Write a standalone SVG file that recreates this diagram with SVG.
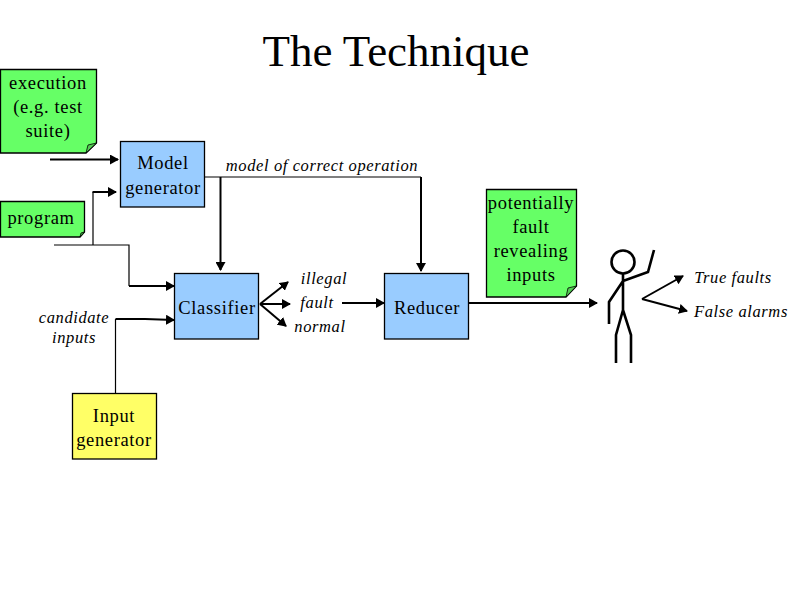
<svg xmlns="http://www.w3.org/2000/svg" width="794" height="595" viewBox="0 0 794 595">
<style>
text{font-family:"Liberation Serif","Times New Roman",serif;text-anchor:middle;fill:#000}
.n{font-size:18.5px;letter-spacing:.65px}
.b{fill:#99ccff;stroke:#000;stroke-width:1.3}
.y{fill:#ffff66;stroke:#000;stroke-width:1.3}
.g{fill:#66ff66;stroke:#000;stroke-width:1.3}
.f{fill:#52cc52;stroke:#000;stroke-width:.8}
.i{font-size:16.5px;font-style:italic;letter-spacing:.6px}
.t{fill:none;stroke:#000;stroke-width:1.2}
.a{fill:none;stroke:#000;stroke-width:2;marker-end:url(#h)}
.p{fill:none;stroke:#000;stroke-width:2.6}
</style>
<defs><marker id="h" markerUnits="userSpaceOnUse" markerWidth="9" markerHeight="10" refX="8" refY="5" orient="auto"><path d="M0 0L9 5L0 10Z" fill="#000"/></marker></defs>
<rect width="794" height="595" fill="#fff"/>
<text x="396" y="66" font-size="45">The Technique</text>
<g id="connectors">
<path class="a" d="M50 159.500H118"/>
<path class="t" d="M54 245H129V286"/>
<path class="t" d="M93 245V192"/>
<path class="a" d="M92.500 192H116"/>
<path class="a" d="M129 286H174"/>
<path class="a" d="M115.500 319H145L174 320"/>
<path class="t" d="M115.500 319V393"/>
<path class="t" d="M204 177H421"/>
<path class="a" d="M220.500 177V270"/>
<path class="a" d="M421 177V271"/>
<path class="a" d="M260 304L288 282"/>
<path class="a" d="M260 304L290 304"/>
<path class="a" d="M260 304L286 326"/>
<path class="a" d="M342 303H384"/>
<path class="a" d="M469 303H597"/>
<path class="a" d="M642 299L683 276"/>
<path class="a" d="M642 299L687 311"/>
</g>
<g id="execution">
<path class="g" d="M.5 69.500H96.500V143L86 153H.5Z"/><path class="f" d="M96.500 143L86 153L88 145Z"/>
<text class="n" x="48" y="89">execution</text><text class="n" x="48" y="113">(e.g. test</text><text class="n" x="48" y="137">suite)</text>
</g>
<g id="program">
<path class="g" d="M.5 201.500H84.500V232L80 237H.5Z"/><path class="f" d="M84.500 232L80 237L81 233Z"/>
<text class="n" x="41" y="224">program</text>
</g>
<g id="model-generator">
<rect class="b" x="120.500" y="141.500" width="84" height="65.500"/>
<text class="n" x="163" y="169">Model</text><text class="n" x="163" y="194">generator</text>
</g>
<text class="i" x="322" y="171">model of correct operation</text>
<g id="classifier">
<rect class="b" x="174.500" y="273.500" width="84" height="65.500"/>
<text class="n" x="217" y="314">Classifier</text>
</g>
<text class="i" x="74" y="323">candidate</text><text class="i" x="74" y="343">inputs</text>
<g id="input-generator">
<rect class="y" x="72.500" y="393.500" width="84" height="65.500"/>
<text class="n" x="114" y="422">Input</text><text class="n" x="114" y="446">generator</text>
</g>
<text class="i" x="324" y="284">illegal</text><text class="i" x="317" y="308">fault</text><text class="i" x="320" y="332">normal</text>
<g id="reducer">
<rect class="b" x="384.500" y="273.500" width="84" height="65.500"/>
<text class="n" x="427" y="314">Reducer</text>
</g>
<g id="potentially-fault-revealing-inputs">
<path class="g" d="M486.500 189.500H576.500V286L566 297H486.500Z"/><path class="f" d="M576.500 286L566 297L568 288Z"/>
<text class="n" x="531" y="209">potentially</text><text class="n" x="531" y="233">fault</text><text class="n" x="531" y="257">revealing</text><text class="n" x="531" y="281">inputs</text>
</g>
<g id="person">
<circle class="p" cx="623" cy="262" r="11.500"/>
<path class="p" d="M623 273V310M623 310L616 335V363M623 310L631 335V363M623 281L609 302V324M623 281L648 272L654 250"/>
</g>
<text class="i" x="733" y="283">True faults</text><text class="i" x="741" y="317">False alarms</text>
</svg>
